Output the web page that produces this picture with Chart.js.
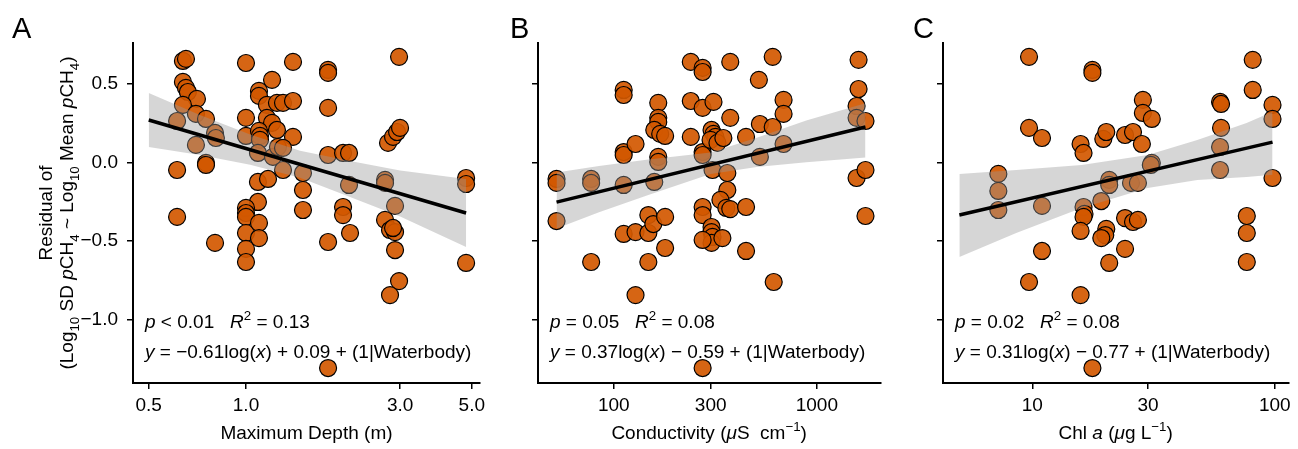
<!DOCTYPE html>
<html>
<head>
<meta charset="utf-8">
<script src="https://cdn.jsdelivr.net/npm/chart.js@4"></script>
<style>
    html, body { margin: 0; padding: 0; background: #fff; }
    #wrap { position: relative; width: 1298px; height: 449px; }
    .panel { position: absolute; top: 0; height: 449px; }
</style>
</head>
<body>
<div id="wrap">
    <div class="panel" style="left:0;width:490px"><canvas id="chartA"></canvas></div>
    <div class="panel" style="left:490px;width:400px"><canvas id="chartB"></canvas></div>
    <div class="panel" style="left:890px;width:408px"><canvas id="chartC"></canvas></div>
</div>
<script>
// DATA -----------------------------------------------------------------------

// shared residual axis
const residTicks = [-1, -0.5, 0, 0.5]

// A: maximum depth (m)
const depthX = [0.638, 0.652, 1.0, 1.398, 1.795, 1.795, 2.977, 0.638, 0.652, 0.661,
    0.705, 0.638, 0.612, 0.700, 0.752, 0.700, 0.802, 0.807, 0.752, 0.752,
    0.612, 0.612, 0.802, 1.0, 1.0, 1.097, 1.097, 1.204, 1.161, 1.247,
    1.302, 1.398, 1.161, 1.204, 1.247, 1.097, 1.105, 1.105, 1.398, 1.089,
    1.212, 1.256, 1.302, 1.302, 1.501, 1.501, 1.501, 1.795, 1.795, 1.997,
    2.084, 2.084, 1.997, 1.997, 2.099, 2.694, 2.694, 2.893, 2.752, 2.852,
    2.935, 2.998, 1.089, 1.170, 1.089, 1.0, 1.0, 1.0, 1.0, 1.0,
    1.0, 1.097, 1.097, 1.795, 1.795, 2.694, 2.791, 2.893, 2.852, 2.893,
    2.977, 2.791, 4.80, 4.80, 4.80]
const depthY = [0.643, 0.656, 0.630, 0.637, 0.586, 0.567, 0.669, 0.510, 0.472, 0.446,
    0.402, 0.364, 0.262, 0.307, 0.275, 0.110, 0.186, 0.154, -0.004, -0.017,
    -0.049, -0.347, -0.512, 0.282, 0.167, 0.453, 0.421, 0.523, 0.364, 0.377,
    0.377, 0.389, 0.282, 0.250, 0.205, 0.199, 0.167, 0.142, 0.161, 0.059,
    0.034, 0.097, 0.091, -0.049, -0.068, -0.176, -0.303, 0.345, 0.046, 0.059,
    0.059, -0.144, -0.284, -0.335, -0.449, -0.112, -0.131, -0.277, 0.123, 0.161,
    0.192, 0.218, -0.125, -0.106, -0.252, -0.290, -0.322, -0.347, -0.449, -0.550,
    -0.633, -0.385, -0.481, -0.506, -1.306, -0.366, -0.430, -0.443, -0.417, -0.557,
    -0.754, -0.843, -0.100, -0.138, -0.639]
const depthFitX = [0.5, 4.8]
const depthFitY = [0.268, -0.322]
const depthBandX = [0.5, 0.72, 1.03, 1.47, 2.1, 3.0, 4.8]
const depthBandHi = [0.440, 0.300, 0.176, 0.073, 0.008, -0.053, -0.106]
const depthBandLo = [0.097, 0.046, -0.015, -0.098, -0.220, -0.345, -0.538]
const depthTicks = [0.5, 1, 3, 5]

// B: conductivity (uS/cm)
const condX = [52.2, 52.2, 52.2, 77.3, 77.3, 77.3, 111.8, 111.8, 111.8, 111.8,
    111.8, 111.8, 127.9, 127.9, 127.9, 147.9, 147.9, 147.9, 156.5, 165.5,
    165.5, 165.5, 158.2, 169.2, 178.9, 165.5, 165.5, 158.2, 178.9, 178.9,
    239.4, 273.8, 273.8, 239.4, 273.8, 309.7, 239.4, 273.8, 273.8, 302.9,
    309.7, 316.7, 299.6, 324.0, 346.4, 374.6, 374.6, 448.1, 518.3, 524.2,
    524.2, 606.3, 606.3, 613.2, 685.8, 685.8, 685.8, 306.3, 362.3, 362.3,
    335.0, 358.3, 374.6, 448.1, 273.8, 273.8, 302.9, 302.9, 306.3, 302.9,
    342.6, 273.8, 448.1, 273.8, 1606, 1606, 1570, 1570, 1737, 1570,
    1737, 1737]
const condY = [-0.106, -0.131, -0.373, -0.106, -0.131, -0.633, 0.459, 0.427, 0.065, 0.046,
    -0.144, -0.455, 0.116, -0.443, -0.843, -0.335, -0.449, -0.633, -0.392, 0.377,
    0.282, 0.256, 0.205, 0.180, 0.167, 0.034, 0.002, -0.125, -0.347, -0.544,
    0.637, 0.599, 0.573, 0.389, 0.345, 0.383, 0.161, 0.065, 0.046, 0.205,
    0.180, 0.161, 0.142, 0.123, 0.154, 0.637, 0.282, 0.161, 0.523, 0.243,
    0.034, 0.669, 0.224, -0.760, 0.396, 0.307, 0.116, -0.049, -0.068, -0.176,
    -0.239, -0.290, -0.297, -0.284, -0.284, -0.335, -0.411, -0.443, -0.474, -0.512,
    -0.481, -0.493, -0.563, -1.306, 0.650, 0.465, 0.357, 0.282, 0.262, -0.100,
    -0.049, -0.341]
const condFitX = [52.2, 1737]
const condFitY = [-0.253, 0.224]
const condBandX = [52.2, 84.5, 147.9, 299.6, 506, 887, 1737]
const condBandHi = [-0.065, -0.023, 0.017, 0.062, 0.155, 0.265, 0.375]
const condBandLo = [-0.420, -0.318, -0.208, -0.075, -0.030, 0.000, 0.030]
const condTicks = [100, 300, 1000]

// C: chlorophyll a (ug/L)
const chlX = [9.69, 17.69, 17.69, 9.69, 10.96, 15.81, 16.26, 19.62, 20.18, 24.12,
    26.01, 28.57, 28.57, 31.1, 28.3, 7.24, 7.24, 7.24, 10.96, 19.25,
    20.75, 20.75, 25.52, 27.26, 31.1, 30.8, 16.26, 16.41, 16.26, 15.81,
    20.18, 19.99, 19.25, 24.12, 26.01, 27.26, 10.96, 20.75, 24.12, 9.69,
    15.81, 17.69, 59.47, 60.03, 60.03, 59.47, 59.47, 81.1, 81.1, 97.86,
    97.86, 97.86, 76.66, 76.66, 76.66]
const chlY = [0.669, 0.586, 0.567, 0.218, 0.154, 0.116, 0.059, 0.148, 0.192, 0.173,
    0.192, 0.396, 0.313, 0.275, 0.116, -0.074, -0.182, -0.303, -0.277, -0.246,
    -0.112, -0.144, -0.131, -0.131, -0.004, -0.017, -0.284, -0.328, -0.347, -0.436,
    -0.423, -0.462, -0.481, -0.354, -0.379, -0.366, -0.563, -0.639, -0.550, -0.760,
    -0.843, -1.306, 0.383, 0.370, 0.218, 0.097, -0.049, 0.650, 0.459, 0.364,
    0.275, -0.100, -0.341, -0.449, -0.633]
const chlFitX = [5.0, 97.9]
const chlFitY = [-0.335, 0.128]
const chlBandX = [5.0, 8.58, 15.96, 29.9, 47.9, 76.5, 97.9]
const chlBandHi = [-0.074, -0.049, -0.017, 0.046, 0.142, 0.250, 0.320]
const chlBandLo = [-0.601, -0.449, -0.290, -0.163, -0.112, -0.093, -0.080]
const chlTicks = [10, 30, 100]

// SETTINGS -------------------------------------------------------------------

const FONT = "'Liberation Sans', Arial, sans-serif"
const POINT_FILL = 'rgba(210, 88, 0, 0.92)'
const BAND_FILL = 'rgba(153, 153, 153, 0.4)'

Chart.defaults.font.family = FONT
Chart.defaults.color = '#000'

// RICH TEXT (*italic*, _{sub}, ^{sup}) ---------------------------------------

function parseRich(str) {
    return str.split(/(\*[^*]+\*|_\{[^}]+\}|\^\{[^}]+\})/).filter(s => s !== '').map(s => {
        if (s[0] === '*') return {t: s.slice(1, -1), it: true}
        if (s[0] === '_') return {t: s.slice(2, -1), sub: true}
        if (s[0] === '^') return {t: s.slice(2, -1), sup: true}
        return {t: s}
    })
}

function segFont(seg, size) {
    const sz = (seg.sub || seg.sup) ? size * 0.7 : size
    return `${seg.it ? 'italic ' : ''}${sz}px ${FONT}`
}

function drawRich(ctx, str, x, y, size, align) {
    const segs = parseRich(str)
    let width = 0
    segs.forEach(seg => { ctx.font = segFont(seg, size); width += ctx.measureText(seg.t).width })
    let cx = align === 'center' ? x - width / 2 : x
    ctx.textAlign = 'left'
    segs.forEach(seg => {
        ctx.font = segFont(seg, size)
        const dy = seg.sub ? size * 0.3 : (seg.sup ? -size * 0.42 : 0)
        ctx.fillText(seg.t, cx, y + dy)
        cx += ctx.measureText(seg.t).width
    })
}

const panelText = {
    id: 'panelText',
    afterDatasetsDraw(chart, args, opts) {
        const ctx = chart.ctx
        const area = chart.chartArea
        ctx.save()
        ctx.fillStyle = '#000'
        ctx.textBaseline = 'alphabetic'
        drawRich(ctx, opts.letter, opts.letterX, 38, 29, 'left')
        drawRich(ctx, opts.xTitle, (area.left + area.right) / 2, 439, 19, 'center')
        opts.stats.forEach((line, i) => drawRich(ctx, line, area.left + 12, 328 + 30 * i, 19, 'left'))
        const cy = (area.top + area.bottom) / 2
        opts.yTitle.forEach((line, i) => {
            ctx.save()
            ctx.translate(52 + 21 * i, cy)
            ctx.rotate(-Math.PI / 2)
            drawRich(ctx, line, 0, 0, 19, 'center')
            ctx.restore()
        })
        ctx.restore()
    }
}

// CHARTS ---------------------------------------------------------------------

function toPoints(xs, ys) {
    return xs.map((x, i) => ({x: x, y: ys[i]}))
}

function axisStyle() {
    return {
        grid: {drawOnChartArea: false, drawTicks: true, tickLength: 6, color: '#000', lineWidth: 1.5},
        border: {display: true, color: '#000', width: 2}
    }
}

function makePanel(canvasId, p) {
    return new Chart(document.getElementById(canvasId), {
        type: 'scatter',
        data: {
            datasets: [
                {data: toPoints(p.x, p.y), order: 3, pointRadius: 8.5,
                    backgroundColor: POINT_FILL, borderColor: '#000', borderWidth: 1.2},
                {type: 'line', data: toPoints(p.bandX, p.bandHi), order: 2,
                    borderColor: 'rgba(0,0,0,0)', pointRadius: 0, fill: false},
                {type: 'line', data: toPoints(p.bandX, p.bandLo), order: 2,
                    borderColor: 'rgba(0,0,0,0)', pointRadius: 0, fill: '-1', backgroundColor: BAND_FILL},
                {type: 'line', data: toPoints(p.fitX, p.fitY), order: 1,
                    borderColor: '#000', borderWidth: 3.5, pointRadius: 0, fill: false}
            ]
        },
        plugins: [panelText],
        options: {
            responsive: true,
            maintainAspectRatio: false,
            animation: false,
            events: [],
            layout: {padding: {top: 43, bottom: 26, left: 0, right: p.padRight}},
            plugins: {
                legend: {display: false},
                tooltip: {enabled: false},
                panelText: p.text
            },
            scales: {
                x: {
                    type: 'logarithmic',
                    min: p.xMin,
                    max: p.xMax,
                    bounds: 'data',
                    afterBuildTicks: s => { s.ticks = p.xTicks.map(v => ({value: v})) },
                    afterFit: s => { s.height = 40; s.paddingLeft = 0; s.paddingRight = 0 },
                    ticks: {callback: p.xFormat, autoSkip: false, maxRotation: 0, padding: 5,
                        color: '#000', font: {size: 19}},
                    ...axisStyle()
                },
                y: {
                    type: 'linear',
                    min: -1.401,
                    max: 0.757,
                    bounds: 'data',
                    afterBuildTicks: s => { s.ticks = residTicks.map(v => ({value: v})) },
                    afterFit: s => { s.width = p.yWidth; s.paddingTop = 0; s.paddingBottom = 0 },
                    ticks: {
                        callback: v => p.yLabels ? (v < 0 ? '\u2212' : '') + Math.abs(v).toFixed(1) : '',
                        autoSkip: false, padding: 9, color: '#000', font: {size: 19}
                    },
                    ...axisStyle()
                }
            }
        }
    })
}

makePanel('chartA', {
    x: depthX, y: depthY, fitX: depthFitX, fitY: depthFitY,
    bandX: depthBandX, bandHi: depthBandHi, bandLo: depthBandLo,
    xMin: 0.447, xMax: 5.30, xTicks: depthTicks, xFormat: v => v.toFixed(1),
    yLabels: true, yWidth: 133, padRight: 10,
    text: {
        letter: 'A', letterX: 12,
        xTitle: 'Maximum Depth (m)',
        stats: ['*p* < 0.01   *R*^{2} = 0.13', '*y* = \u22120.61log(*x*) + 0.09 + (1|Waterbody)'],
        yTitle: ['Residual of', '(Log_{10} SD *p*CH_{4} ~ Log_{10} Mean *p*CH_{4})']
    }
})

makePanel('chartB', {
    x: condX, y: condY, fitX: condFitX, fitY: condFitY,
    bandX: condBandX, bandHi: condBandHi, bandLo: condBandLo,
    xMin: 42.3, xMax: 2055, xTicks: condTicks, xFormat: v => String(v),
    yLabels: false, yWidth: 48, padRight: 5,
    text: {
        letter: 'B', letterX: 20,
        xTitle: 'Conductivity (*\u03bc*S  cm^{\u22121})',
        stats: ['*p* = 0.05   *R*^{2} = 0.08', '*y* = 0.37log(*x*) \u2212 0.59 + (1|Waterbody)'],
        yTitle: []
    }
})

makePanel('chartC', {
    x: chlX, y: chlY, fitX: chlFitX, fitY: chlFitY,
    bandX: chlBandX, bandHi: chlBandHi, bandLo: chlBandLo,
    xMin: 4.28, xMax: 113.7, xTicks: chlTicks, xFormat: v => String(v),
    yLabels: false, yWidth: 53, padRight: 6,
    text: {
        letter: 'C', letterX: 23,
        xTitle: 'Chl *a* (*\u03bc*g L^{\u22121})',
        stats: ['*p* = 0.02   *R*^{2} = 0.08', '*y* = 0.31log(*x*) \u2212 0.77 + (1|Waterbody)'],
        yTitle: []
    }
})
</script>
</body>
</html>
